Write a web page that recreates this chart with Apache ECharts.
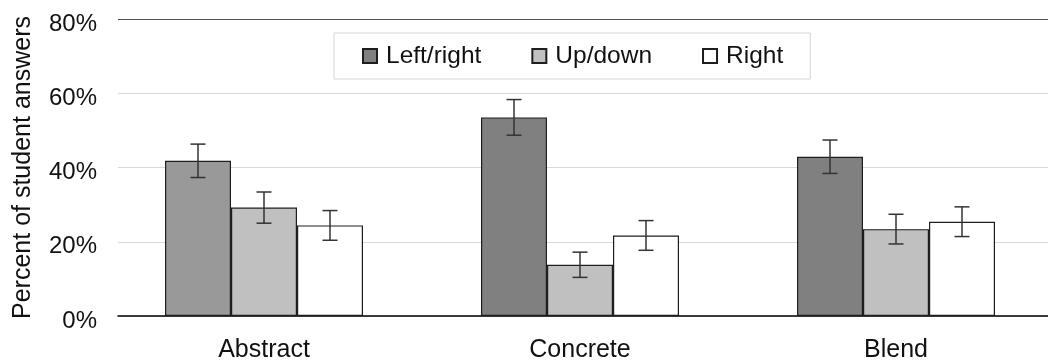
<!DOCTYPE html>
<html>
<head>
<meta charset="utf-8">
<script src="https://cdn.jsdelivr.net/npm/echarts@6/dist/echarts.min.js"></script>
<style>
  html, body { margin: 0; padding: 0; background: #fff; }
  #chart { width: 1048px; height: 363px; }
</style>
</head>
<body>
<div id="chart"></div>
<script>
// Answer categories and the share of student answers (percent) per direction
const categories = ['Abstract', 'Concrete', 'Blend'];
const seriesNames = ['Left/right', 'Up/down', 'Right'];
const leftRight = [41.8, 53.5, 42.9];
const upDown = [29.2, 13.8, 23.4];
const right = [24.4, 21.7, 25.4];
// Half-widths of the error bars (percentage points)
const leftRightErr = [4.5, 4.8, 4.5];
const upDownErr = [4.2, 3.4, 4.0];
const rightErr = [4.0, 4.0, 4.0];
// Y axis ticks
const yTicks = [0, 20, 40, 60, 80];

const FONT = '"Liberation Sans", Arial, sans-serif';
const BAR_W = 66;
const values = [leftRight, upDown, right];
const errs = [leftRightErr, upDownErr, rightErr];
const fills = ['#808080', '#c0c0c0', '#ffffff'];

const chart = echarts.init(document.getElementById('chart'), null, { renderer: 'canvas' });

const barSeries = values.map((vals, k) => ({
  name: seriesNames[k],
  type: 'bar',
  xAxisIndex: 1,
  yAxisIndex: 1,
  barWidth: BAR_W,
  barGap: '0%',
  itemStyle: { color: fills[k], borderColor: '#1e1e1e', borderWidth: 1.2 },
  emphasis: { disabled: true },
  data: vals.map((v, i) => (k === 0 && i === 0)
    ? { value: v, itemStyle: { color: '#999999' } }
    : v)
}));

const errSeries = values.map((vals, k) => ({
  type: 'custom',
  xAxisIndex: 1,
  yAxisIndex: 1,
  z: 5,
  silent: true,
  data: vals.map((v, i) => [i, v, errs[k][i]]),
  renderItem: function (params, api) {
    const i = api.value(0), v = api.value(1), e = api.value(2);
    const top = api.coord([i, v + e]);
    const bot = api.coord([i, v - e]);
    const x = top[0] + (k - 1) * BAR_W;
    const cap = 7.5;
    const style = { stroke: '#333', lineWidth: 1.5 };
    return {
      type: 'group',
      children: [
        { type: 'line', shape: { x1: x, y1: top[1], x2: x, y2: bot[1] }, style },
        { type: 'line', shape: { x1: x - cap, y1: top[1], x2: x + cap, y2: top[1] }, style },
        { type: 'line', shape: { x1: x - cap, y1: bot[1], x2: x + cap, y2: bot[1] }, style }
      ]
    };
  }
}));

chart.setOption({
  animation: false,
  backgroundColor: '#ffffff',
  textStyle: { fontFamily: FONT },
  legend: {
    data: seriesNames,
    left: 334,
    top: 33,
    orient: 'horizontal',
    backgroundColor: '#ffffff',
    borderColor: '#d4d4d4',
    borderWidth: 1,
    padding: [10, 27, 10, 28],
    itemWidth: 14,
    itemHeight: 14,
    itemGap: 50,
    icon: 'rect',
    textStyle: { fontFamily: FONT, fontSize: 24.5, color: '#111', lineHeight: 26, padding: [0, 0, 0, 4] }
  },
  grid: [
    { left: 118, top: 19, right: 0, bottom: 47, outerBoundsMode: 'none' },
    { left: 106, top: 19, width: 948, bottom: 47, outerBoundsMode: 'none' }
  ],
  xAxis: [
    {
      gridIndex: 0,
      type: 'category',
      data: categories,
      axisLine: { lineStyle: { color: '#000', width: 1.5 } },
      axisTick: { show: false },
      axisLabel: { show: false }
    },
    {
      gridIndex: 1,
      type: 'category',
      data: categories,
      axisLine: { show: false },
      axisTick: { show: false },
      axisLabel: { fontFamily: FONT, fontSize: 25, color: '#111', margin: 22 }
    }
  ],
  yAxis: [
    {
      gridIndex: 0,
      type: 'value',
      min: yTicks[0],
      max: yTicks[yTicks.length - 1],
      interval: 20,
      name: 'Percent of student answers',
      nameLocation: 'middle',
      nameGap: 82,
      nameTextStyle: { fontFamily: FONT, fontSize: 25, color: '#111' },
      axisLine: { show: false },
      axisTick: { show: false },
      axisLabel: {
        formatter: '{value}%',
        fontFamily: FONT, fontSize: 24, color: '#111', margin: 21,
        verticalAlign: 'top',
        lineHeight: 10
      },
      splitLine: {
        lineStyle: { color: ['#d9d9d9', '#d9d9d9', '#d9d9d9', '#d9d9d9', '#555555'], width: 1.2 }
      }
    },
    {
      gridIndex: 1,
      type: 'value',
      min: yTicks[0],
      max: yTicks[yTicks.length - 1],
      show: false
    }
  ],
  series: barSeries.concat(errSeries)
});
</script>
</body>
</html>
